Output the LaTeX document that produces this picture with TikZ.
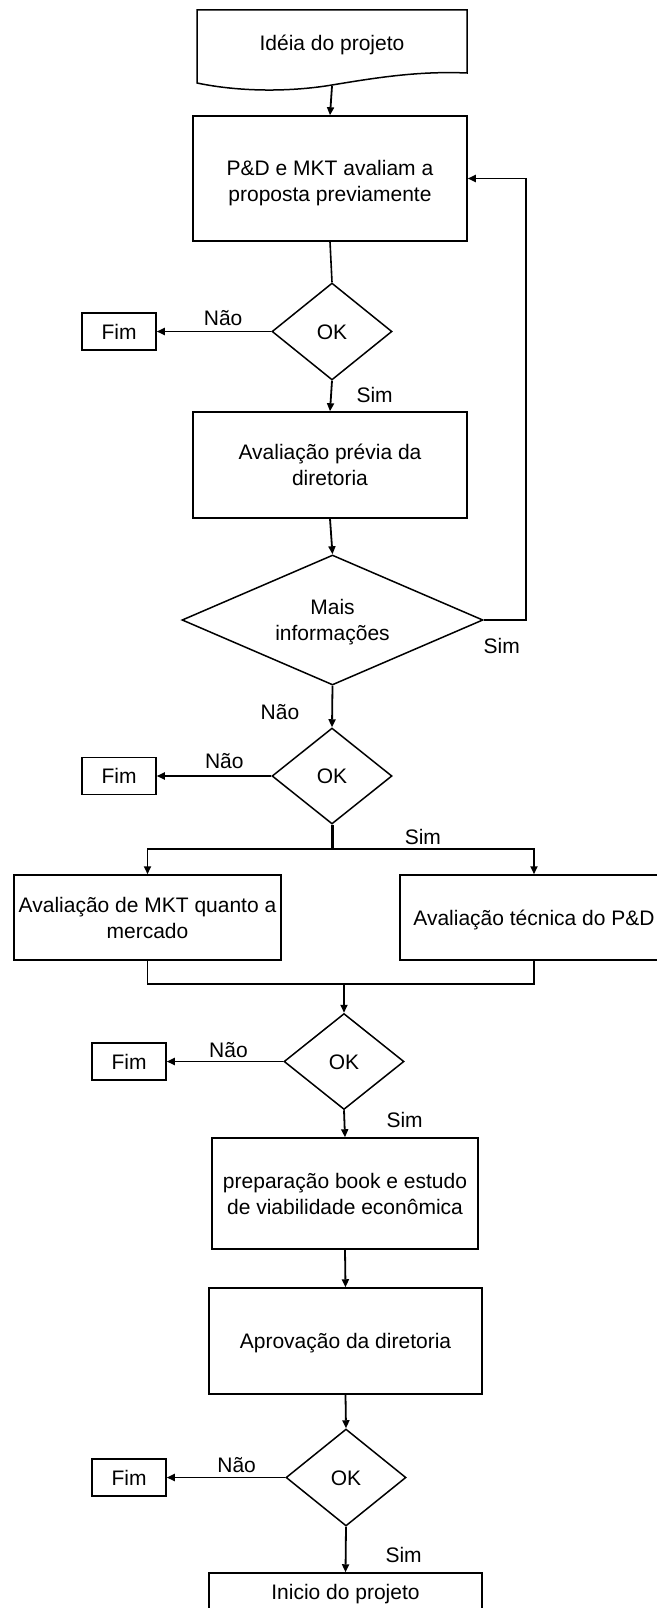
\documentclass[tikz,border=0pt]{standalone}
\usepackage{fontspec}
\setmainfont{Liberation Sans}
\usepackage{tikz}
\usetikzlibrary{arrows.meta,calc,shapes.geometric}

\begin{document}
\begin{tikzpicture}[>={Triangle[length=8pt,width=7pt]}, x=1pt, y=-1pt,
  every node/.style={font=\fontsize{21}{26}\selectfont, text height=15pt, text depth=0pt},
  proc/.style={draw, line width=1.5pt, align=center, inner sep=0pt},
  decis/.style={draw, diamond, line width=1.5pt, align=center, inner sep=0pt},
  twolines/.style={text height=41pt},
  fimbox/.style={draw, line width=1.5pt, minimum width=74pt, minimum height=37pt, inner sep=0pt},
  lbl/.style={inner sep=0pt},
  arr/.style={->, line width=1.8pt},
  seg/.style={line width=1.6pt}]
  \useasboundingbox (0,0) rectangle (656,1608);
  \draw[line width=1.5pt] (197,10) -- (467,10) -- (467,73)
    .. controls (420,71) and (380,77) .. (332,85)
    .. controls (290,92) and (240,92) .. (197,83) -- cycle;
  \node[minimum height=86pt] (ideia) at (332,43) {Idéia do projeto};
  \node[proc, text height=45pt, minimum width=274pt, minimum height=125pt] (avalia) at (330,178.5)
    {P\&D e MKT avaliam a\\proposta previamente};
  \node[decis, minimum width=120pt, minimum height=97pt] (ok1) at (332,331.5) {OK};
  \node[fimbox] (fim1) at (119,331.5) {Fim};
  \node[proc, twolines, minimum width=274pt, minimum height=106pt] (previa) at (330,465)
    {Avaliação prévia da\\diretoria};
  \node[decis, twolines, shape aspect=2.3, minimum width=301pt, minimum height=130pt] (info) at (332.5,620)
    {Mais\\informações};
  \node[decis, minimum width=120pt, minimum height=96pt] (ok2) at (332,776) {OK};
  \node[fimbox] (fim2) at (119,776) {Fim};
  \coordinate (split) at (332,849);
  \node[proc, twolines, minimum width=267pt, minimum height=85pt] (mkt) at (147.5,917.5)
    {Avaliação de MKT quanto a\\mercado};
  \node[proc, minimum width=268pt, minimum height=85pt] (tec) at (534,917.5)
    {Avaliação técnica do P\&D};
  \coordinate (join) at (344,984);
  \node[decis, minimum width=120pt, minimum height=96pt] (ok3) at (344,1061.5) {OK};
  \node[fimbox] (fim3) at (129,1061.5) {Fim};
  \node[proc, twolines, minimum width=266pt, minimum height=111pt] (book) at (345,1193.5)
    {preparação book e estudo\\de viabilidade econômica};
  \node[proc, minimum width=273pt, minimum height=106pt] (aprov) at (345.5,1341)
    {Aprovação da diretoria};
  \node[decis, minimum width=120pt, minimum height=97pt] (ok4) at (346,1477.5) {OK};
  \node[fimbox] (fim4) at (129,1477.5) {Fim};
  \node[proc, minimum width=273pt, minimum height=37pt] (inicio) at (345.5,1591.5)
    {Inicio do projeto};
  \draw[arr] (ideia.south) -- (avalia.north);
  \draw[seg] (avalia.south) -- (ok1.north);
  \draw[arr] (ok1.west) -- node[lbl, pos=.42, above=5pt] {Não} (fim1.east);
  \draw[arr] (ok1.south) -- node[lbl, pos=.7, anchor=base west, xshift=25pt] {Sim} (previa.north);
  \draw[arr] (previa.south) -- (info.north);
  \draw[arr] (info.east) node[lbl, anchor=base west, xshift=-1pt, yshift=-33pt] {Sim}
    -- ++(42,0) |- (avalia.east);
  \draw[arr] (info.south) -- node[lbl, pos=.81, anchor=base east, xshift=-32pt] {Não} (ok2.north);
  \draw[arr] (ok2.west) -- node[lbl, pos=.41, above=7pt] {Não} (fim2.east);
  \draw[line width=3pt] (ok2.south) -- (split);
  \draw[arr] (split) -| (mkt.north);
  \draw[arr] (split) -- node[lbl, pos=.45, above=4pt] {Sim} (split -| tec.north) -- (tec.north);
  \draw[seg] (mkt.south) -- (mkt.south |- join) -- (tec.south |- join) -- (tec.south);
  \draw[arr] (join) -- (ok3.north);
  \draw[arr] (ok3.west) -- node[lbl, pos=.47, above=3pt] {Não} (fim3.east);
  \draw[arr] (ok3.south) -- node[lbl, pos=.62, anchor=base west, xshift=41pt] {Sim} (book.north);
  \draw[arr] (book.south) -- (aprov.north);
  \draw[arr] (aprov.south) -- (ok4.north);
  \draw[arr] (ok4.west) -- node[lbl, pos=.41, above=4pt] {Não} (fim4.east);
  \draw[arr] (ok4.south) -- node[lbl, pos=.79, anchor=base west, xshift=39pt] {Sim} (inicio.north);
\end{tikzpicture}
\end{document}
